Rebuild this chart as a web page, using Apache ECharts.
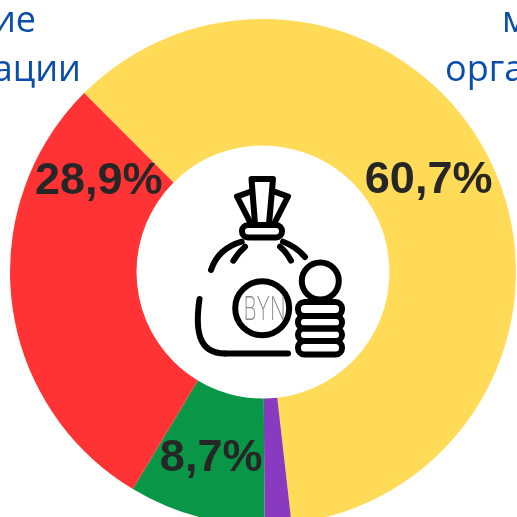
<!DOCTYPE html>
<html>
<head>
<meta charset="utf-8">
<style>
html,body{margin:0;padding:0;background:#fff;overflow:hidden}
#chart{width:517px;height:517px}
</style>
<script src="https://cdn.jsdelivr.net/npm/echarts@6/dist/echarts.min.js"></script>
</head>
<body>
<div id="chart"></div>
<script>
var sliceLabels = ['60,7%', '1,7%', '8,7%', '28,9%'];
var sliceValues = [60.7, 1.7, 8.7, 28.9];
var sliceColors = ['#FFDB58', '#8A3AC0', '#0A9647', '#FF3333'];
var labelOffsets = [[-8, -8], [0, 0], [-1, 1], [27, -114]];

var chart = echarts.init(document.getElementById('chart'));

var line = {stroke: '#000', lineWidth: 6, fill: null, lineCap: 'round', lineJoin: 'round'};
function iconLine(points) {
    return {type: 'polyline', shape: {points: points}, style: line};
}
function iconCurve(x1, y1, cx1, cy1, cx2, cy2, x2, y2) {
    return {type: 'bezierCurve', shape: {x1: x1, y1: y1, cpx1: cx1, cpy1: cy1, cpx2: cx2, cpy2: cy2, x2: x2, y2: y2}, style: line};
}
function iconRect(x, y, w, h, r) {
    return {type: 'rect', shape: {x: x, y: y, width: w, height: h, r: r}, style: line};
}
function iconCircle(cx, cy, r) {
    return {type: 'circle', shape: {cx: cx, cy: cy, r: r}, style: line};
}
function cutText(txt, x, y, align) {
    return {type: 'text', x: x, y: y, style: {
        text: txt, fill: '#0A4DAA', align: align,
        font: '36px "Open Sans", "Noto Sans", sans-serif'
    }};
}

var option = {
    animation: false,
    series: [{
        type: 'pie',
        center: [263, 272],
        radius: [126.5, 253],
        startAngle: 135,
        clockwise: true,
        silent: true,
        label: {
            show: true,
            position: 'inside',
            formatter: function (p) { return p.name; },
            color: '#262626',
            fontFamily: '"Liberation Sans", Arial, sans-serif',
            fontWeight: 'bold',
            fontSize: 45
        },
        labelLine: {show: false},
        data: sliceValues.map(function (v, i) {
            return {
                name: sliceLabels[i],
                value: v,
                itemStyle: {color: sliceColors[i]},
                label: i == 1 ? {show: false} : {offset: labelOffsets[i]}
            };
        })
    }],
    graphic: [
        cutText('ие', 36, 4, 'right'),
        cutText('ации', 81, 53, 'right'),
        cutText('м', 502, 4, 'left'),
        cutText('орга', 445, 53, 'left'),
        {
            type: 'group',
            children: [
                // завязка и верх мешка
                iconRect(242, 225, 40, 12.5, 6),
                iconLine([[255, 224], [251.5, 179], [273, 179], [269, 224]]),
                iconLine([[251, 224], [237, 196.5], [251, 191.5]]),
                iconLine([[274, 224], [288, 196.5], [274, 191.5]]),
                // плечи мешка
                iconCurve(241.7, 241.7, 223, 247, 215, 258, 211, 270),
                iconCurve(245, 246.7, 240, 251, 236, 256, 233.3, 260.7),
                iconCurve(283, 241.7, 292, 245, 300, 251, 305, 257),
                iconCurve(280, 246.7, 284, 250, 288, 255, 291, 260.7),
                // низ мешка
                iconCurve(199.5, 299, 195, 330, 198, 353.5, 225, 353.5),
                iconLine([[225, 353.5], [288, 353.5]]),
                // монеты
                iconCircle(262.2, 308.3, 27),
                iconCircle(320.3, 281, 18.5),
                iconRect(298, 302, 44, 14, 6.5),
                iconRect(298, 316, 44, 12.5, 6),
                iconRect(298, 328.5, 44, 12.5, 6),
                iconRect(298, 341, 44, 13.5, 6.5)
            ]
        },
        {
            type: 'text',
            x: 264.5,
            y: 310,
            scaleX: 0.62,
            style: {
                text: 'BYN', fill: '#8A8A8A', align: 'center', verticalAlign: 'middle',
                font: '200 33px "Inter", sans-serif'
            }
        }
    ]
};
chart.setOption(option);
</script>
</body>
</html>
